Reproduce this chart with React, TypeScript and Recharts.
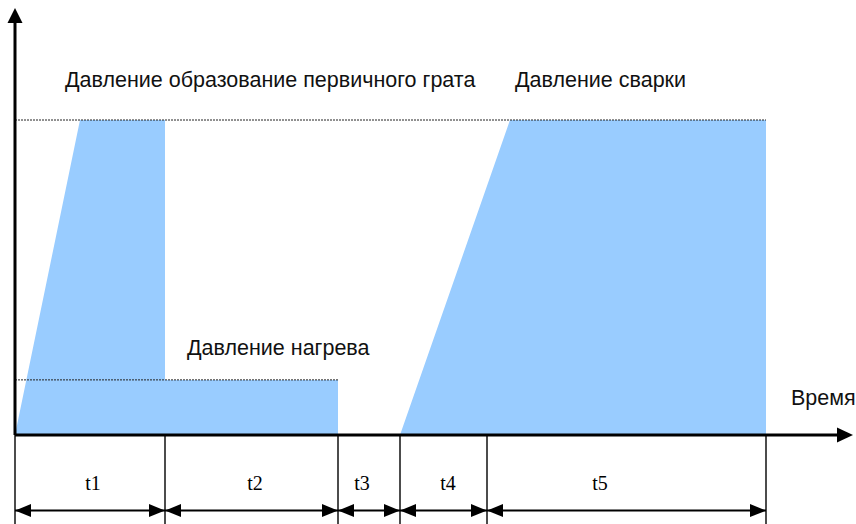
import React from "react";
import { ComposedChart, Area, XAxis, YAxis, ReferenceLine, ReferenceDot } from "recharts";

// outline of the pressure cycle (time, pressure), drawn in order
const TIME = [0, 6.5, 15, 15, 32.3, 32.3, 38.5, 49.5, 75.1, 75.1];
const PRESSURE = [0, 100, 100, 17.5, 17.5, 0, 0, 100, 100, 0];

const WELD_P = 100;
const HEAT_P = 17.5;
const HEAT_END = 32.3;
const WELD_END = 75.1;

// phase boundaries and names
const BOUNDS = [0, 15, 32.3, 38.5, 47.2, 75.1];
const PHASES = ["t1", "t2", "t3", "t4", "t5"];
const PHASE_LABEL_T = [7.8, 24, 34.7, 43.3, 58.5];

const LABELS = [
  { text: "Давление образование первичного грата", t: 5.0, p: 110.6 },
  { text: "Давление сварки", t: 50.0, p: 110.6 },
  { text: "Давление нагрева", t: 17.2, p: 25.4 },
  { text: "Время", t: 77.6, p: 9.5 },
];

const X_END = 83.8;
const Y_TOP = 135.56;
const Y_ARROW_BASE = 130.8;
const X_ARROW_BASE = 82.2;
const DIM_P = -24;
const BOTTOM_P = -28.3;
const PHASE_TEXT_P = -17.5;

const data = TIME.map((t, i) => ({ t, p: PRESSURE[i] }));

const SANS = "'Liberation Sans', Arial, sans-serif";
const SERIF = "'Liberation Serif', 'Times New Roman', serif";

const DimShape = (props: any) => {
  const { x1, y1, x2, y2 } = props;
  const L = 16;
  const H = 6.5;
  return (
    <g>
      <line x1={x1} y1={y1} x2={x2} y2={y2} stroke="#000" strokeWidth={2} />
      <polygon points={`${x1},${y1} ${x1 + L},${y1 - H} ${x1 + L},${y1 + H}`} fill="#000" />
      <polygon points={`${x2},${y2} ${x2 - L},${y2 - H} ${x2 - L},${y2 + H}`} fill="#000" />
    </g>
  );
};

const UpArrow = (p: any) => (
  <polygon points={`${p.cx},${p.cy} ${p.cx - 7.5},${p.cy + 15} ${p.cx + 7.5},${p.cy + 15}`} fill="#000" />
);

const RightArrow = (p: any) => (
  <polygon points={`${p.cx},${p.cy} ${p.cx - 16},${p.cy - 7.5} ${p.cx - 16},${p.cy + 7.5}`} fill="#000" />
);

export default function App() {
  return (
    <div style={{ position: "absolute", left: 0, top: 0, width: 856, height: 524, background: "#fff" }}>
      <ComposedChart width={856} height={524} data={data} margin={{ top: 8, right: 3, left: 15, bottom: 89 }}>
        <XAxis dataKey="t" type="number" domain={[0, X_END]} allowDataOverflow hide />
        <YAxis type="number" domain={[0, Y_TOP]} allowDataOverflow hide />
        <Area
          type="linear"
          dataKey="p"
          stroke="none"
          fill="#99ccff"
          fillOpacity={1}
          isAnimationActive={false}
          dot={false}
          activeDot={false}
        />
        <ReferenceLine
          segment={[{ x: 0, y: WELD_P }, { x: WELD_END, y: WELD_P }]}
          stroke="#222"
          strokeWidth={1}
          strokeDasharray="2 1"
          ifOverflow="visible"
        />
        <ReferenceLine
          segment={[{ x: 0, y: HEAT_P }, { x: HEAT_END, y: HEAT_P }]}
          stroke="#222"
          strokeWidth={1}
          strokeDasharray="2 1"
          ifOverflow="visible"
        />
        {BOUNDS.map((b) => (
          <ReferenceLine
            key={"b" + b}
            segment={[{ x: b, y: 0 }, { x: b, y: BOTTOM_P }]}
            stroke="#111"
            strokeWidth={1.5}
            ifOverflow="visible"
          />
        ))}
        {PHASES.map((name, i) => (
          <ReferenceLine
            key={"d" + name}
            segment={[{ x: BOUNDS[i], y: DIM_P }, { x: BOUNDS[i + 1], y: DIM_P }]}
            ifOverflow="visible"
            shape={DimShape}
          />
        ))}
        {PHASES.map((name, i) => (
          <ReferenceDot
            key={"l" + name}
            x={PHASE_LABEL_T[i]}
            y={PHASE_TEXT_P}
            ifOverflow="visible"
            shape={(p: any) => (
              <text x={p.cx} y={p.cy} textAnchor="middle" fontFamily={SERIF} fontSize={20} fill="#000">
                {name}
              </text>
            )}
          />
        ))}
        <ReferenceLine
          segment={[{ x: 0, y: 0 }, { x: 0, y: Y_ARROW_BASE }]}
          stroke="#000"
          strokeWidth={3}
          ifOverflow="visible"
        />
        <ReferenceLine
          segment={[{ x: 0, y: 0 }, { x: X_ARROW_BASE, y: 0 }]}
          stroke="#000"
          strokeWidth={3}
          ifOverflow="visible"
        />
        <ReferenceDot x={0} y={Y_TOP} ifOverflow="visible" shape={UpArrow} />
        <ReferenceDot x={X_END} y={0} ifOverflow="visible" shape={RightArrow} />
        {LABELS.map((l) => (
          <ReferenceDot
            key={l.text}
            x={l.t}
            y={l.p}
            ifOverflow="visible"
            shape={(p: any) => (
              <text x={p.cx} y={p.cy} fontFamily={SANS} fontSize={21.5} fill="#111">
                {l.text}
              </text>
            )}
          />
        ))}
      </ComposedChart>
    </div>
  );
}
